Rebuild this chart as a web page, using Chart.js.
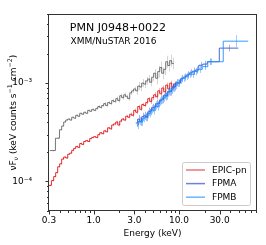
<!DOCTYPE html>
<html><head><meta charset="utf-8">
<script src="https://cdn.jsdelivr.net/npm/chart.js@4/dist/chart.umd.min.js"></script>
<style>html,body{margin:0;padding:0;background:#fff;}</style>
</head><body>
<canvas id="c" width="266" height="245"></canvas>
<script>
// ---- data ----
const pnEnergy = [0.310,0.331,0.350,0.369,0.390,0.411,0.434,0.458,0.484,0.511,
  0.539,0.569,0.600,0.634,0.669,0.706,0.745,0.786,0.830,0.876,
  0.925,0.976,1.03,1.09,1.15,1.21,1.28,1.35,1.42,1.50,
  1.59,1.67,1.77,1.87,1.97,2.08,2.19,2.32,2.44,2.58,
  2.72,2.87,3.03,3.20,3.38,3.57,3.76,3.97,4.19,4.43,
  4.67,4.93,5.20,5.49,5.80,6.12,6.46,6.82,7.19,7.59,
  8.01,8.46,8.93];
const pnFlux = [9.1e-5,1.02e-4,1.12e-4,1.23e-4,1.41e-4,1.51e-4,1.69e-4,1.77e-4,1.73e-4,1.89e-4,
  1.94e-4,2.07e-4,2.17e-4,2.27e-4,2.22e-4,2.43e-4,2.38e-4,2.55e-4,2.60e-4,2.55e-4,
  2.73e-4,2.80e-4,2.85e-4,2.80e-4,2.99e-4,3.13e-4,3.06e-4,3.27e-4,3.20e-4,3.51e-4,
  3.43e-4,3.75e-4,3.84e-4,4.02e-4,3.75e-4,4.11e-4,4.31e-4,4.21e-4,4.61e-4,4.50e-4,
  4.82e-4,4.71e-4,5.28e-4,5.05e-4,5.78e-4,5.41e-4,6.05e-4,5.92e-4,6.34e-4,6.95e-4,
  6.49e-4,7.11e-4,7.61e-4,7.27e-4,8.34e-4,7.79e-4,8.92e-4,8.15e-4,9.55e-4,8.72e-4,
  1.00e-3,9.13e-4,9.8e-4];
const pnErr = [0.02,0.02,0.02,0.02,0.02,0.02,0.02,0.02,0.02,0.02,
  0.02,0.02,0.02,0.02,0.02,0.02,0.02,0.02,0.02,0.02,
  0.02,0.02,0.02,0.02,0.02,0.02,0.02,0.02,0.02,0.02,
  0.03,0.03,0.03,0.03,0.03,0.03,0.03,0.03,0.03,0.03,
  0.04,0.04,0.04,0.04,0.04,0.04,0.04,0.04,0.04,0.04,
  0.06,0.06,0.06,0.06,0.06,0.06,0.06,0.06,0.06,0.06,
  0.06,0.06,0.06];

const mosEnergy = [0.331,0.385,0.411,0.434,0.458,0.484,0.511,0.539,0.569,0.600,
  0.634,0.669,0.706,0.745,0.786,0.830,0.876,0.925,0.976,1.03,
  1.09,1.15,1.21,1.28,1.35,1.42,1.50,1.59,1.67,1.77,
  1.87,1.97,2.08,2.19,2.32,2.44,2.58,2.72,2.87,3.03,
  3.20,3.38,3.57,3.76,3.97,4.19,4.43,4.67,4.93,5.20,
  5.49,5.80,6.12,6.46,6.82,7.19,7.59,8.01,8.46];
const mosFlux = [2.06e-4,2.75e-4,3.35e-4,3.66e-4,4.02e-4,4.21e-4,4.31e-4,4.21e-4,4.50e-4,4.40e-4,
  4.71e-4,4.60e-4,4.93e-4,4.82e-4,5.05e-4,4.93e-4,5.28e-4,5.17e-4,5.41e-4,5.28e-4,
  5.53e-4,5.78e-4,5.66e-4,5.92e-4,6.19e-4,5.92e-4,6.34e-4,6.19e-4,6.64e-4,6.49e-4,
  6.95e-4,6.64e-4,7.44e-4,7.11e-4,7.61e-4,7.27e-4,6.95e-4,7.96e-4,8.34e-4,8.72e-4,
  8.34e-4,9.34e-4,9.13e-4,1.00e-3,9.77e-4,1.05e-3,1.10e-3,1.02e-3,1.15e-3,1.26e-3,
  1.12e-3,1.31e-3,1.44e-3,1.26e-3,1.38e-3,1.65e-3,1.51e-3,1.69e-3,1.58e-3];
const mosErr = [0.02,0.02,0.02,0.02,0.02,0.02,0.02,0.02,0.02,0.02,
  0.02,0.02,0.02,0.02,0.02,0.02,0.02,0.02,0.02,0.02,
  0.04,0.04,0.04,0.04,0.04,0.04,0.04,0.04,0.04,0.04,
  0.05,0.05,0.05,0.05,0.05,0.05,0.05,0.05,0.05,0.05,
  0.10,0.10,0.10,0.10,0.10,0.10,0.10,0.10,0.10,0.10,
  0.15,0.15,0.15,0.15,0.15,0.15,0.15,0.15,0.15];

const fpmaEnergy = [3.20,3.38,3.57,3.76,3.97,4.19,4.43,4.67,4.93,5.20,
  5.49,5.80,6.12,6.46,6.82,7.19,7.59,8.01,8.46,8.93,
  9.42,10.1,10.8,11.7,12.7,13.8,14.9,16.2,18.0,20.1,
  23.0,38.4];
const fpmaFlux = [3.93e-4,4.30e-4,4.05e-4,4.55e-4,4.65e-4,4.50e-4,5.10e-4,5.20e-4,5.60e-4,5.70e-4,
  6.15e-4,6.20e-4,6.70e-4,6.85e-4,7.55e-4,7.45e-4,8.25e-4,8.20e-4,9.05e-4,9.20e-4,
  1.01e-3,1.00e-3,1.11e-3,1.15e-3,1.21e-3,1.27e-3,1.32e-3,1.36e-3,1.52e-3,1.56e-3,
  1.65e-3,2.27e-3];
const fpmaErr = [0.10,0.10,0.10,0.10,0.10,0.10,0.10,0.10,0.10,0.10,
  0.10,0.10,0.10,0.10,0.10,0.10,0.10,0.10,0.10,0.10,
  0.09,0.09,0.09,0.09,0.09,0.09,0.09,0.09,0.08,0.08,
  0.08,0.08];

const fpmbEnergy = [3.29,3.46,3.66,3.87,4.08,4.31,4.54,4.80,5.06,5.34,
  5.64,5.95,6.28,6.63,7.00,7.39,7.80,8.23,8.69,9.17,
  9.81,10.5,11.4,12.3,13.4,14.5,15.8,17.5,20.1,23.6,
  46.3];
const fpmbFlux = [3.75e-4,4.11e-4,4.02e-4,4.40e-4,4.50e-4,4.82e-4,4.93e-4,5.41e-4,5.28e-4,5.92e-4,
  5.78e-4,6.49e-4,6.79e-4,7.11e-4,7.27e-4,7.96e-4,8.15e-4,8.53e-4,8.92e-4,9.55e-4,
  1.00e-3,1.07e-3,1.12e-3,1.17e-3,1.23e-3,1.23e-3,1.31e-3,1.38e-3,1.47e-3,1.65e-3,
  2.67e-3];
const fpmbErr = [0.10,0.10,0.10,0.10,0.10,0.10,0.10,0.10,0.10,0.10,
  0.10,0.10,0.10,0.10,0.10,0.10,0.10,0.10,0.10,0.10,
  0.09,0.09,0.09,0.09,0.09,0.09,0.09,0.09,0.08,0.08,
  0.15];

const xTickValues = [0.3, 1, 3, 10, 30];
const xTickLabels = ['0.3', '1.0', '3.0', '10.0', '30.0'];
const yTickValues = [1e-4, 1e-3];
const yTickLabels = ['10\u207B\u2074', '10\u207B\u00B3'];
const titleText = 'PMN J0948+0022';
const subtitleText = 'XMM/NuSTAR 2016';
const xAxisTitle = 'Energy (keV)';
const legendLabels = ['EPIC-pn', 'FPMA', 'FPMB'];

// ---- helpers ----
const FONT = '"DejaVu Sans", "Liberation Sans", sans-serif';
function stepPoints(energy, flux) {
  const n = energy.length, edges = [];
  for (let i = 1; i < n; i++) edges[i] = Math.sqrt(energy[i-1] * energy[i]);
  edges[0] = energy[0] * energy[0] / edges[1];
  edges[n] = energy[n-1] * energy[n-1] / edges[n-1];
  const pts = energy.map((e, i) => ({x: edges[i], y: flux[i]}));
  pts.push({x: edges[n], y: flux[n-1]});
  return pts;
}
function ds(label, energy, flux, err, color, errColor, order) {
  return {label, data: stepPoints(energy, flux), stepped: 'before', borderColor: color,
    borderWidth: 1, pointRadius: 0, fill: false, order,
    errE: energy, errF: flux, errR: err, errColor};
}

const errorBars = {
  id: 'errorBars',
  beforeDatasetDraw(chart, args) {
    const d = chart.data.datasets[args.index];
    const xs = chart.scales.x, ys = chart.scales.y, ctx = chart.ctx, a = chart.chartArea;
    ctx.save();
    ctx.beginPath(); ctx.rect(a.left, a.top, a.right - a.left, a.bottom - a.top); ctx.clip();
    ctx.strokeStyle = d.errColor; ctx.lineWidth = 1;
    ctx.beginPath();
    d.errE.forEach((e, i) => {
      const px = Math.round(xs.getPixelForValue(e)) + 0.5;
      const f = d.errF[i], r = d.errR[i];
      ctx.moveTo(px, ys.getPixelForValue(f * (1 + r)));
      ctx.lineTo(px, ys.getPixelForValue(f / (1 + r)));
    });
    ctx.stroke();
    ctx.restore();
  }
};

function minorTicks(min, max, skip) {
  const out = [];
  for (let p = -6; p <= 3; p++) for (let k = 1; k <= 9; k++) {
    const v = k * Math.pow(10, p);
    if (v >= min * 0.999 && v <= max * 1.001 && !skip.some(s => Math.abs(s - v) / v < 1e-6)) out.push(v);
  }
  return out;
}

const frame = {
  id: 'frame',
  afterDraw(chart) {
    const ctx = chart.ctx, a = chart.chartArea, xs = chart.scales.x, ys = chart.scales.y;
    ctx.save();
    ctx.strokeStyle = '#333'; ctx.lineWidth = 1;
    ctx.strokeRect(Math.round(a.left) - 0.5, Math.round(a.top) + 0.5, Math.round(a.right - a.left) + 1, Math.round(a.bottom - a.top) - 1);
    ctx.beginPath();
    xTickValues.forEach(v => { const p = Math.round(xs.getPixelForValue(v)) + 0.5; ctx.moveTo(p, a.bottom); ctx.lineTo(p, a.bottom + 3.5); });
    minorTicks(xs.min, xs.max, xTickValues).forEach(v => { const p = Math.round(xs.getPixelForValue(v)) + 0.5; ctx.moveTo(p, a.bottom); ctx.lineTo(p, a.bottom + 2); });
    yTickValues.forEach(v => { const p = Math.round(ys.getPixelForValue(v)) + 0.5; ctx.moveTo(a.left, p); ctx.lineTo(a.left - 3.5, p); });
    minorTicks(ys.min, ys.max, yTickValues).forEach(v => { const p = Math.round(ys.getPixelForValue(v)) + 0.5; ctx.moveTo(a.left, p); ctx.lineTo(a.left - 2, p); });
    ctx.stroke();

    // titles inside the axes
    ctx.fillStyle = '#000'; ctx.textAlign = 'left'; ctx.textBaseline = 'alphabetic';
    ctx.font = '11px ' + FONT; ctx.fillText(titleText, 69.8, 31);
    ctx.font = '9px ' + FONT; ctx.fillText(subtitleText, 70.5, 44.3);

    // x axis title
    ctx.textAlign = 'center'; ctx.font = '9px ' + FONT;
    ctx.fillText(xAxisTitle, (a.left + a.right) / 2, 235.5);

    // y axis title with sub/superscripts
    const parts = [
      {t: '\u03BDF', s: 9, dy: 0}, {t: '\u03BD', s: 6.3, dy: 2}, {t: ' (keV counts s', s: 9, dy: 0},
      {t: '\u22121', s: 6.3, dy: -3.6}, {t: ' cm', s: 9, dy: 0}, {t: '\u22122', s: 6.3, dy: -3.6}, {t: ')', s: 9, dy: 0}
    ];
    let total = 0;
    parts.forEach(p => { ctx.font = p.s + 'px ' + FONT; p.w = ctx.measureText(p.t).width; total += p.w; });
    ctx.translate(15.5, (a.top + a.bottom) / 2);
    ctx.rotate(-Math.PI / 2);
    ctx.textAlign = 'left';
    let x = -total / 2;
    parts.forEach(p => { ctx.font = p.s + 'px ' + FONT; ctx.fillText(p.t, x, p.dy); x += p.w; });
    ctx.restore();

    // legend
    ctx.save();
    const bx = 182, by = 162, bw = 68, bh = 43;
    ctx.fillStyle = 'rgba(255,255,255,0.8)'; ctx.strokeStyle = '#cccccc'; ctx.lineWidth = 1;
    ctx.beginPath(); ctx.roundRect(bx + 0.5, by + 0.5, bw, bh, 2); ctx.fill(); ctx.stroke();
    const items = chart.data.datasets.filter(d => legendLabels.includes(d.label))
      .sort((p, q) => legendLabels.indexOf(p.label) - legendLabels.indexOf(q.label));
    ctx.font = '9px ' + FONT; ctx.textBaseline = 'middle'; ctx.textAlign = 'left'; ctx.fillStyle = '#000';
    items.forEach((d, i) => {
      const yy = 170 + i * 13.6;
      ctx.strokeStyle = d.legendColor; ctx.lineWidth = 1.5;
      ctx.beginPath(); ctx.moveTo(186, yy); ctx.lineTo(205, yy); ctx.stroke();
      ctx.fillText(d.label, 212, yy + 0.5);
    });
    ctx.restore();
  }
};

const datasets = [
  ds('EPIC-MOS', mosEnergy, mosFlux, mosErr, 'rgba(95,95,95,0.85)', 'rgba(150,150,150,0.4)', 3),
  ds('EPIC-pn', pnEnergy, pnFlux, pnErr, 'rgba(222,22,26,0.9)', 'rgba(222,22,26,0.35)', 2),
  ds('FPMA', fpmaEnergy, fpmaFlux, fpmaErr, 'rgba(55,85,205,0.9)', 'rgba(55,85,205,0.45)', 1),
  ds('FPMB', fpmbEnergy, fpmbFlux, fpmbErr, 'rgba(30,144,255,0.9)', 'rgba(30,144,255,0.45)', 0)
];
datasets[1].legendColor = 'rgba(225,60,60,0.7)';
datasets[2].legendColor = 'rgba(60,90,210,0.75)';
datasets[3].legendColor = 'rgba(40,150,255,0.7)';

new Chart(document.getElementById('c'), {
  type: 'line',
  data: {datasets},
  plugins: [errorBars, frame],
  options: {
    responsive: false, animation: false, devicePixelRatio: 1,
    layout: {padding: {left: 0, right: 10, top: 10, bottom: 0}},
    plugins: {legend: {display: false}, tooltip: {enabled: false}},
    scales: {
      x: {
        type: 'logarithmic', min: 0.3, max: 80,
        grid: {display: false}, border: {display: false},
        afterBuildTicks: s => { s.ticks = xTickValues.map(v => ({value: v})); },
        afterFit: s => { s.height = 34; },
        ticks: {autoSkip: false, maxRotation: 0, padding: -4, color: '#000',
          font: {family: FONT, size: 9},
          callback: (v, i) => xTickLabels[i]}
      },
      y: {
        type: 'logarithmic', min: 5e-5, max: 5e-3,
        grid: {display: false}, border: {display: false},
        afterBuildTicks: s => { s.ticks = yTickValues.map(v => ({value: v})); },
        afterFit: s => { s.width = 49; },
        ticks: {autoSkip: false, padding: 9, color: '#000',
          font: {family: FONT, size: 9},
          callback: (v, i) => yTickLabels[i]}
      }
    }
  }
});
</script>
</body></html>
